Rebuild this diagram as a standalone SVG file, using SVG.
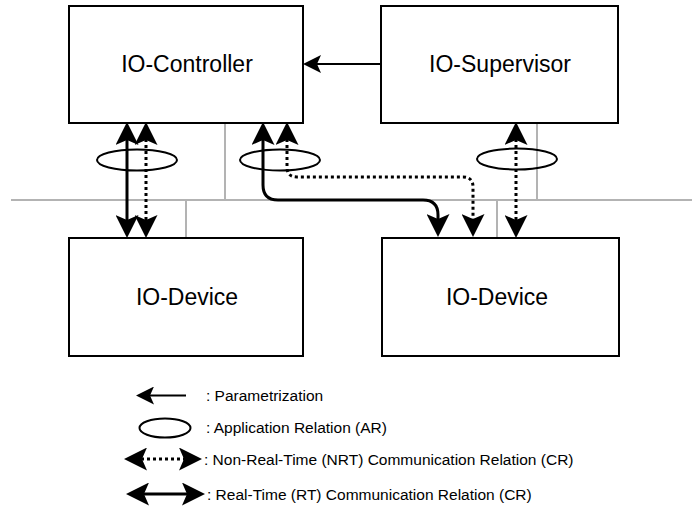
<svg xmlns="http://www.w3.org/2000/svg" width="699" height="514" viewBox="0 0 699 514">
<style>
.box{fill:#fff;stroke:#000;stroke-width:2}
.lbl{font-family:"Liberation Sans",Arial,Helvetica,sans-serif;font-size:23px;fill:#000;text-anchor:middle}
.leg{font-family:"Liberation Sans",Arial,Helvetica,sans-serif;font-size:15.5px;fill:#000}
.net{fill:none;stroke:#b3b3b3;stroke-width:2}
.rt{fill:none;stroke:#000;stroke-width:3}
.nrt{fill:none;stroke:#000;stroke-width:3;stroke-dasharray:3 3}
.ar{fill:none;stroke:#000;stroke-width:2}
</style>
<defs>
<marker id="big" viewBox="0 0 23 23" refX="18" refY="11.5" markerWidth="23" markerHeight="23" markerUnits="userSpaceOnUse" orient="auto-start-reverse">
<path d="M0,0 L23,11.5 L0,23 L5,11.5 Z" fill="#000"/>
</marker>
<marker id="small" viewBox="0 0 18 18" refX="14" refY="9" markerWidth="18" markerHeight="18" markerUnits="userSpaceOnUse" orient="auto-start-reverse">
<path d="M0,0 L18,9 L0,18 L4,9 Z" fill="#000"/>
</marker>
</defs>
<g id="network">
<path class="net" d="M11,200 H692 M225,123 V200 M186,200 V238 M537,123 V200 M497,200 V238"/>
</g>
<g id="io-controller">
<rect class="box" x="69" y="6" width="234" height="117"/>
<text class="lbl" x="187" y="72">IO-Controller</text>
</g>
<g id="io-supervisor">
<rect class="box" x="381" y="6" width="237" height="117"/>
<text class="lbl" x="500" y="72">IO-Supervisor</text>
</g>
<g id="io-device-1">
<rect class="box" x="69" y="238" width="234" height="118"/>
<text class="lbl" x="187" y="305">IO-Device</text>
</g>
<g id="io-device-2">
<rect class="box" x="382" y="238" width="237" height="118"/>
<text class="lbl" x="497" y="305">IO-Device</text>
</g>
<g id="connectors">
<line class="ar" x1="381" y1="64" x2="307" y2="64" marker-end="url(#small)"/>
<line class="rt" x1="127" y1="127" x2="127" y2="233" marker-start="url(#big)" marker-end="url(#big)"/>
<line class="nrt" x1="146" y1="127" x2="146" y2="233" marker-start="url(#big)" marker-end="url(#big)"/>
<path class="rt" d="M263,127 V185 Q263,200 278,200 H423 Q438,200 438,215 V232" marker-start="url(#big)" marker-end="url(#big)"/>
<path class="nrt" d="M287,127 V167 Q287,177 297,177 H463 Q473,177 473,187 V232" marker-start="url(#big)" marker-end="url(#big)"/>
<line class="nrt" x1="516" y1="127" x2="516" y2="233" marker-start="url(#big)" marker-end="url(#big)"/>
<ellipse class="ar" cx="137" cy="160" rx="40" ry="10.5"/>
<ellipse class="ar" cx="280" cy="160" rx="40" ry="10.5"/>
<ellipse class="ar" cx="517" cy="159" rx="40" ry="10.5"/>
</g>
<g id="legend">
<line class="ar" x1="186" y1="395.5" x2="140" y2="395.5" marker-end="url(#small)"/>
<text class="leg" x="206" y="401">: Parametrization</text>
<ellipse class="ar" cx="165" cy="428" rx="25.5" ry="9.5"/>
<text class="leg" x="206" y="433">: Application Relation (AR)</text>
<line class="nrt" x1="129" y1="459" x2="197" y2="459" marker-start="url(#big)" marker-end="url(#big)"/>
<text class="leg" x="204" y="464.5">: Non-Real-Time (NRT) Communication Relation (CR)</text>
<line class="rt" x1="131" y1="494" x2="200" y2="494" marker-start="url(#big)" marker-end="url(#big)"/>
<text class="leg" x="207" y="499.5">: Real-Time (RT) Communication Relation (CR)</text>
</g>
</svg>
